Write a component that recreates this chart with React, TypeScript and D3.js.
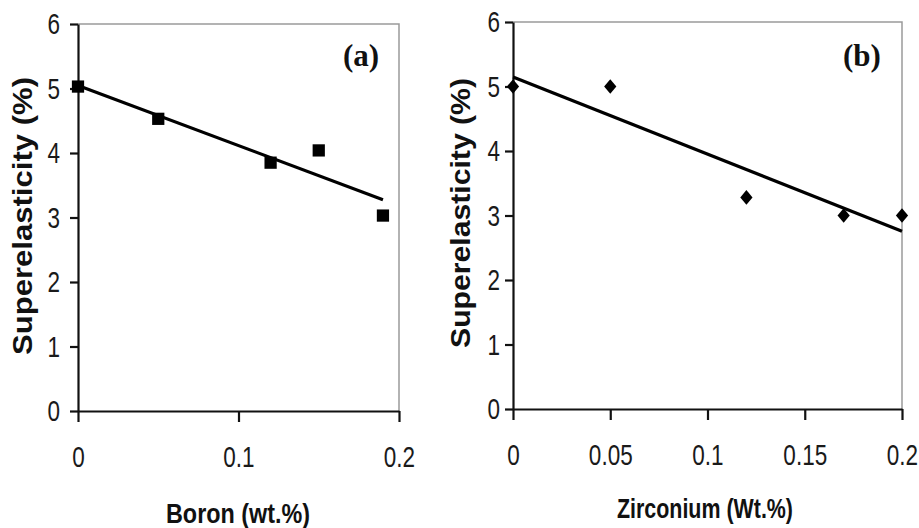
import React, { useEffect, useRef } from "react";
import * as d3 from "d3";

// panel (a): boron additions
const boronWt = [0, 0.05, 0.12, 0.15, 0.19];
const boronSE = [5.03, 4.53, 3.85, 4.04, 3.03];
const boronTicks = [0, 0.1, 0.2];

// panel (b): zirconium additions
const zrWt = [0, 0.05, 0.12, 0.17, 0.2];
const zrSE = [5.0, 5.0, 3.28, 3.0, 3.0];
const zrTicks = [0, 0.05, 0.1, 0.15, 0.2];

const yTicks = [0, 1, 2, 3, 4, 5, 6];

const SANS = "'Liberation Sans', Arial, sans-serif";
const SQUEEZE = 0.75; // the source uses a narrow face for the numbers

const diamond = {
  draw(ctx: any, size: number) {
    const w = Math.sqrt(size) / 2;
    const h = w * 1.2;
    ctx.moveTo(0, -h);
    ctx.lineTo(w, 0);
    ctx.lineTo(0, h);
    ctx.lineTo(-w, 0);
    ctx.closePath();
  },
};

const fit = (xs: number[], ys: number[]) => {
  const mx = d3.mean(xs)!;
  const my = d3.mean(ys)!;
  const sxy = d3.sum(xs, (x, i) => (x - mx) * (ys[i] - my));
  const sxx = d3.sum(xs, (x) => (x - mx) * (x - mx));
  const slope = sxy / sxx;
  return { slope, icept: my - slope * mx };
};

function drawPanel(svg: any, opt: any) {
  const { xs, ys, xTicks, left, right, top, bottom, marker, tag, xTitle, xTitleX, xTitleY, xTitleLen, yTitleX, yTitleY, yTitleLen, tagX, lineEnd, yPad } = opt;
  const g = svg.append("g");
  const x = d3.scaleLinear().domain([0, 0.2]).range([left, right]);
  const y = d3.scaleLinear().domain([0, 6]).range([bottom, top]);

  // light frame top/right
  g.append("path")
    .attr("d", `M${left},${top}H${right}V${bottom}`)
    .attr("fill", "none")
    .attr("stroke", "#9a9a9a")
    .attr("stroke-width", 1.5);

  const yAxis = g
    .append("g")
    .attr("transform", `translate(${left},0)`)
    .call(
      d3
        .axisLeft(y)
        .tickValues(yTicks)
        .tickSize(8)
        .tickPadding(yPad)
        .tickSizeOuter(0)
        .tickFormat((d: any) => String(+d))
    );
  const xAxis = g
    .append("g")
    .attr("transform", `translate(0,${bottom})`)
    .call(
      d3
        .axisBottom(x)
        .tickValues(xTicks)
        .tickSize(11)
        .tickPadding(24)
        .tickSizeOuter(0)
        .tickFormat((d: any) => String(+d))
    );
  [yAxis, xAxis].forEach((a) => {
    a.select(".domain").attr("stroke", "#111").attr("stroke-width", 2.2);
    a.selectAll(".tick line").attr("stroke", "#111").attr("stroke-width", 2.2);
    a.selectAll("text")
      .attr("font-family", SANS)
      .attr("font-size", 30)
      .attr("fill", "#1a1a1a")
      .attr("transform", `scale(${SQUEEZE},1)`);
  });
  yAxis.selectAll("text").attr("x", -(8 + yPad) / SQUEEZE);

  // regression line
  const { slope, icept } = fit(xs, ys);
  const line = d3
    .line<number>()
    .x((d) => x(d))
    .y((d) => y(icept + slope * d));
  g.append("path")
    .attr("d", line([0, lineEnd]))
    .attr("fill", "none")
    .attr("stroke", "#000")
    .attr("stroke-width", 3.2);

  const sym = d3.symbol().type(marker).size(150);
  g.selectAll(".pt")
    .data(xs)
    .join("path")
    .attr("class", "pt")
    .attr("transform", (d: number, i: number) => `translate(${x(d)},${y(ys[i])})`)
    .attr("d", sym())
    .attr("fill", "#000");

  g.append("text")
    .attr("x", tagX)
    .attr("y", 66)
    .attr("text-anchor", "middle")
    .attr("font-family", "'Liberation Serif', 'Times New Roman', serif")
    .attr("font-weight", "bold")
    .attr("font-size", 31)
    .attr("fill", "#111")
    .text(tag);

  g.append("text")
    .attr("x", xTitleX - xTitleLen / 2)
    .attr("y", xTitleY)
    .attr("font-family", SANS)
    .attr("font-weight", "bold")
    .attr("font-size", 28)
    .attr("textLength", xTitleLen)
    .attr("lengthAdjust", "spacingAndGlyphs")
    .attr("fill", "#111")
    .text(xTitle);

  g.append("text")
    .attr("transform", `translate(${yTitleX},${yTitleY}) rotate(-90)`)
    .attr("x", -yTitleLen / 2)
    .attr("font-family", SANS)
    .attr("font-weight", "bold")
    .attr("font-size", 28)
    .attr("textLength", yTitleLen)
    .attr("lengthAdjust", "spacingAndGlyphs")
    .attr("fill", "#111")
    .text("Superelasticity (%)");
}

export default function App() {
  const ref = useRef<SVGSVGElement>(null);

  useEffect(() => {
    const svg = d3.select(ref.current);
    svg.selectAll("*").remove();
    drawPanel(svg, {
      xs: boronWt,
      ys: boronSE,
      xTicks: boronTicks,
      left: 78,
      right: 399,
      top: 24,
      bottom: 411,
      yPad: 10,
      marker: d3.symbolSquare,
      tag: "(a)",
      tagX: 361,
      xTitle: "Boron (wt.%)",
      xTitleX: 238,
      xTitleY: 523,
      xTitleLen: 144,
      yTitleX: 32,
      yTitleY: 216,
      yTitleLen: 278,
      lineEnd: d3.max(boronWt),
    });
    drawPanel(svg, {
      xs: zrWt,
      ys: zrSE,
      xTicks: zrTicks,
      left: 513,
      right: 902,
      top: 22,
      bottom: 409,
      yPad: 5,
      marker: diamond,
      tag: "(b)",
      tagX: 862,
      xTitle: "Zirconium (Wt.%)",
      xTitleX: 705,
      xTitleY: 518,
      xTitleLen: 176,
      yTitleX: 470,
      yTitleY: 213,
      yTitleLen: 270,
      lineEnd: d3.max(zrWt),
    });
    return () => {
      svg.selectAll("*").remove();
    };
  }, []);

  return (
    <svg
      ref={ref}
      width={919}
      height={528}
      style={{ position: "absolute", left: 0, top: 0, background: "#fff" }}
    />
  );
}
